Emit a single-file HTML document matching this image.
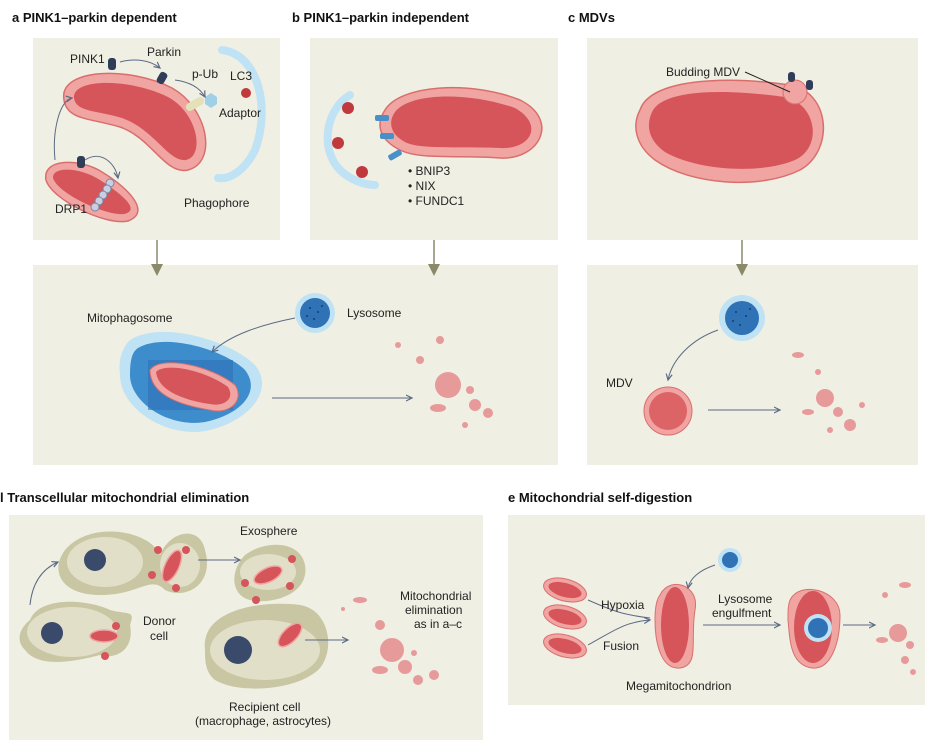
<!DOCTYPE html>
<html><head><meta charset="utf-8"><style>
html,body{margin:0;padding:0;background:#fff;}
svg{display:block;font-family:"Liberation Sans",sans-serif;}
.h{font-weight:bold;font-size:13px;fill:#111;}
.t{font-size:12px;fill:#222;}
</style></head><body>
<svg width="935" height="747" viewBox="0 0 935 747" xmlns="http://www.w3.org/2000/svg">
<defs>
<marker id="ar" markerWidth="8" markerHeight="8" refX="6" refY="4" orient="auto"><path d="M0,1 L6,4 L0,7" fill="none" stroke="#5b6a85" stroke-width="1.2"/></marker>
<marker id="ag" markerWidth="8" markerHeight="8" refX="4" refY="4" orient="auto"><path d="M0,0 L8,4 L0,8z" fill="#8a8a6a"/></marker>
</defs>
<g fill="#f0efe3">
<rect x="33" y="38" width="247" height="202"/>
<rect x="310" y="38" width="248" height="202"/>
<rect x="587" y="38" width="331" height="202"/>
<rect x="33" y="265" width="525" height="200"/>
<rect x="587" y="265" width="331" height="200"/>
<rect x="9" y="515" width="474" height="225"/>
<rect x="508" y="515" width="417" height="190"/>
</g>
<text class="h" x="12" y="22">a  PINK1–parkin dependent</text>
<text class="h" x="292" y="22">b  PINK1–parkin independent</text>
<text class="h" x="568" y="22">c  MDVs</text>
<text class="h" x="0" y="502">l  Transcellular mitochondrial elimination</text>
<text class="h" x="508" y="502">e  Mitochondrial self-digestion</text>
<g stroke="#8a8a6a" stroke-width="1.5">
<line x1="157" y1="240" x2="157" y2="270" marker-end="url(#ag)"/>
<line x1="434" y1="240" x2="434" y2="270" marker-end="url(#ag)"/>
<line x1="742" y1="240" x2="742" y2="270" marker-end="url(#ag)"/>
</g>
<!-- panel a -->
<path d="M64,100 C58,68 130,66 172,88 C208,108 218,162 188,170 C165,175 152,138 120,127 C90,118 67,120 64,100Z" fill="#f0a5a2" stroke="#d96f6d" stroke-width="1.5"/>
<path d="M74,98 C72,78 130,78 168,97 C198,113 205,156 186,160 C168,162 155,130 122,118 C95,110 76,112 74,98Z" fill="#d6555a"/>
<path d="M46,180 C42,158 80,158 102,172 C128,188 152,212 128,221 C106,226 52,200 46,180Z" fill="#f0a5a2" stroke="#d96f6d" stroke-width="1.5"/>
<path d="M53,178 C52,166 80,167 100,180 C120,193 142,210 124,214 C106,216 58,194 53,178Z" fill="#d6555a"/>
<g fill="#c9cfe0" stroke="#7a85a0"><circle cx="110" cy="183" r="4"/><circle cx="107" cy="189" r="4"/><circle cx="103" cy="195" r="4"/><circle cx="99" cy="201" r="4"/><circle cx="95" cy="207" r="4"/></g>
<rect x="108" y="58" width="8" height="12" rx="3" fill="#2f3d58"/>
<rect x="158" y="72" width="8" height="12" rx="3" fill="#2f3d58" transform="rotate(30 162 78)"/>
<rect x="77" y="156" width="8" height="12" rx="3" fill="#2f3d58"/>
<rect x="185" y="100" width="20" height="8" rx="4" fill="#e4e0b8" transform="rotate(-30 195 104)"/>
<path d="M205,97 l6,-4 l6,4 l0,7 l-6,4 l-6,-4z" fill="#9fd0e8"/>
<circle cx="246" cy="93" r="5" fill="#c03a3d"/>
<path d="M222,50 C260,55 270,110 255,150 C245,170 230,180 218,178" fill="none" stroke="#bfe2f4" stroke-width="8" stroke-linecap="round"/>
<path d="M120,62 C135,58 150,60 160,68" fill="none" stroke="#5b6a85" marker-end="url(#ar)"/>
<path d="M175,80 C190,82 200,88 205,97" fill="none" stroke="#5b6a85" marker-end="url(#ar)"/>
<path d="M55,160 C52,130 60,100 72,98" fill="none" stroke="#5b6a85" marker-end="url(#ar)"/>
<path d="M85,160 C100,150 115,162 118,178" fill="none" stroke="#5b6a85" marker-end="url(#ar)"/>
<text class="t" x="70" y="63">PINK1</text>
<text class="t" x="147" y="56">Parkin</text>
<text class="t" x="192" y="78">p-Ub</text>
<text class="t" x="230" y="80">LC3</text>
<text class="t" x="219" y="117">Adaptor</text>
<text class="t" x="184" y="207">Phagophore</text>
<text class="t" x="55" y="213">DRP1</text>
<!-- panel b -->
<path d="M385,110 C400,85 470,80 520,100 C560,120 540,160 500,158 C460,155 420,160 400,150 C380,140 375,125 385,110Z" fill="#f0a5a2" stroke="#d96f6d" stroke-width="1.5"/>
<path d="M395,112 C410,92 470,92 515,108 C545,125 530,150 500,148 C460,146 420,150 405,142 C390,134 388,122 395,112Z" fill="#d6555a"/>
<path d="M350,95 C325,110 320,150 340,170 C350,180 365,185 375,185" fill="none" stroke="#bfe2f4" stroke-width="8" stroke-linecap="round"/>
<g fill="#c03a3d"><circle cx="348" cy="108" r="6"/><circle cx="338" cy="143" r="6"/><circle cx="362" cy="172" r="6"/></g>
<g fill="#4a90c8"><rect x="375" y="115" width="14" height="6" rx="2"/><rect x="380" y="133" width="14" height="6" rx="2"/><rect x="388" y="152" width="14" height="6" rx="2" transform="rotate(-30 395 155)"/></g>
<text class="t" x="408" y="175">• BNIP3</text>
<text class="t" x="408" y="190">• NIX</text>
<text class="t" x="408" y="205">• FUNDC1</text>
<!-- panel c -->
<path d="M640,110 C650,80 720,75 790,85 C830,92 835,150 800,170 C760,190 690,185 655,160 C635,145 632,125 640,110Z" fill="#f0a5a2" stroke="#d96f6d" stroke-width="1.5"/>
<path d="M652,112 C662,90 720,88 785,97 C818,105 822,148 795,160 C760,175 695,170 665,152 C648,140 646,125 652,112Z" fill="#d6555a"/>
<circle cx="795" cy="92" r="12" fill="#f0a5a2" stroke="#d96f6d"/>
<rect x="788" y="72" width="7" height="10" rx="3" fill="#2f3d58"/>
<rect x="806" y="80" width="7" height="10" rx="3" fill="#2f3d58"/>
<text class="t" x="666" y="76">Budding MDV</text>
<line x1="745" y1="72" x2="790" y2="92" stroke="#222"/>
<!-- bottom ab -->
<path d="M130,340 C160,320 230,340 255,365 C275,390 250,420 210,430 C170,440 120,410 120,375 C118,360 122,348 130,340Z" fill="#bfe2f4"/>
<path d="M138,348 C165,332 225,350 245,370 C262,392 240,415 205,422 C168,428 130,402 130,375 C130,360 132,352 138,348Z" fill="#3d8ccc"/>
<rect x="148" y="360" width="85" height="50" fill="#2f72b5" opacity="0.6"/>
<path d="M150,370 C160,355 210,365 235,385 C245,400 230,415 210,410 C180,405 150,395 150,370Z" fill="#f0a5a2" stroke="#d96f6d"/>
<path d="M156,372 C165,362 205,370 228,387 C235,398 225,407 210,404 C182,400 158,390 156,372Z" fill="#d6555a"/>
<circle cx="315" cy="313" r="20" fill="#bfe2f4"/><circle cx="315" cy="313" r="15" fill="#2f72b5"/>
<g fill="#1d3b66"><circle cx="310" cy="308" r="1"/><circle cx="318" cy="312" r="1"/><circle cx="314" cy="319" r="1"/><circle cx="322" cy="306" r="1"/><circle cx="307" cy="316" r="1"/></g>
<text class="t" x="347" y="317">Lysosome</text>
<text class="t" x="87" y="322">Mitophagosome</text>
<path d="M295,318 C260,325 230,335 212,352" fill="none" stroke="#5b6a85" marker-end="url(#ar)"/>
<line x1="272" y1="398" x2="412" y2="398" stroke="#5b6a85" marker-end="url(#ar)"/>
<g fill="#e79a9a"><circle cx="448" cy="385" r="13"/><circle cx="420" cy="360" r="4"/><circle cx="398" cy="345" r="3"/><ellipse cx="438" cy="408" rx="8" ry="4"/><circle cx="470" cy="390" r="4"/><circle cx="488" cy="413" r="5"/><circle cx="465" cy="425" r="3"/><circle cx="440" cy="340" r="4"/><circle cx="475" cy="405" r="6"/></g>
<!-- bottom c -->
<circle cx="742" cy="318" r="23" fill="#bfe2f4"/><circle cx="742" cy="318" r="17" fill="#2f72b5"/>
<g fill="#1d3b66"><circle cx="736" cy="312" r="1"/><circle cx="746" cy="316" r="1"/><circle cx="740" cy="325" r="1"/><circle cx="750" cy="309" r="1"/><circle cx="733" cy="321" r="1"/></g>
<circle cx="668" cy="411" r="24" fill="#f0a5a2" stroke="#d96f6d"/><circle cx="668" cy="411" r="19" fill="#dd6466"/>
<text class="t" x="606" y="387">MDV</text>
<path d="M718,330 C690,340 672,360 668,380" fill="none" stroke="#5b6a85" marker-end="url(#ar)"/>
<line x1="708" y1="410" x2="780" y2="410" stroke="#5b6a85" marker-end="url(#ar)"/>
<g fill="#e79a9a"><circle cx="825" cy="398" r="9"/><circle cx="838" cy="412" r="5"/><ellipse cx="798" cy="355" rx="6" ry="3"/><circle cx="818" cy="372" r="3"/><circle cx="850" cy="425" r="6"/><circle cx="862" cy="405" r="3"/><ellipse cx="808" cy="412" rx="6" ry="3"/><circle cx="830" cy="430" r="3"/></g>
<!-- panel d -->
<g fill="#c9c6a4"><path d="M65,550 C90,520 150,530 160,555 C170,530 200,525 205,550 C215,585 185,600 165,590 C150,575 140,595 100,595 C60,595 50,570 65,550Z"/>
<path d="M30,620 C40,595 90,600 110,610 C130,615 135,610 130,625 C135,650 115,660 100,655 C80,660 40,670 25,650 C15,640 20,628 30,620Z"/>
<path d="M245,555 C265,540 300,540 305,565 C310,595 270,605 250,600 C230,595 230,570 245,555Z"/>
<path d="M205,650 C200,610 260,600 300,605 C330,610 335,650 320,668 C300,690 240,695 215,680 C205,672 205,660 205,650Z"/></g>
<g fill="#e2dfc8"><ellipse cx="105" cy="562" rx="38" ry="25"/><ellipse cx="180" cy="565" rx="20" ry="22"/><ellipse cx="72" cy="632" rx="45" ry="25"/><ellipse cx="268" cy="572" rx="28" ry="18"/><ellipse cx="265" cy="650" rx="55" ry="30"/></g>
<g fill="#3a4a6b"><circle cx="95" cy="560" r="11"/><circle cx="52" cy="633" r="11"/><circle cx="238" cy="650" r="14"/></g>
<g fill="#d6555a" stroke="#f0a5a2" stroke-width="1.5"><ellipse cx="172" cy="566" rx="7" ry="17" transform="rotate(25 172 566)"/><ellipse cx="104" cy="636" rx="14" ry="6"/><ellipse cx="268" cy="575" rx="15" ry="7" transform="rotate(-25 268 575)"/><ellipse cx="290" cy="635" rx="7" ry="15" transform="rotate(45 290 635)"/></g>
<g fill="#d6555a"><circle cx="158" cy="550" r="4"/><circle cx="186" cy="550" r="4"/><circle cx="152" cy="575" r="4"/><circle cx="176" cy="588" r="4"/><circle cx="116" cy="626" r="4"/><circle cx="105" cy="656" r="4"/><circle cx="292" cy="559" r="4"/><circle cx="245" cy="583" r="4"/><circle cx="290" cy="586" r="4"/><circle cx="256" cy="600" r="4"/></g>
<path d="M30,605 C32,585 40,570 58,562" fill="none" stroke="#5b6a85" marker-end="url(#ar)"/>
<line x1="198" y1="560" x2="240" y2="560" stroke="#5b6a85" marker-end="url(#ar)"/>
<line x1="305" y1="640" x2="348" y2="640" stroke="#5b6a85" marker-end="url(#ar)"/>
<text class="t" x="240" y="535">Exosphere</text>
<text class="t" x="143" y="625">Donor</text><text class="t" x="150" y="640">cell</text>
<text class="t" x="400" y="600">Mitochondrial</text><text class="t" x="405" y="614">elimination</text><text class="t" x="414" y="628">as in a–c</text>
<text class="t" x="229" y="711">Recipient cell</text><text class="t" x="195" y="725">(macrophage, astrocytes)</text>
<g fill="#e79a9a"><circle cx="392" cy="650" r="12"/><circle cx="405" cy="667" r="7"/><ellipse cx="380" cy="670" rx="8" ry="4"/><ellipse cx="360" cy="600" rx="7" ry="3"/><circle cx="380" cy="625" r="5"/><circle cx="414" cy="653" r="3"/><circle cx="418" cy="680" r="5"/><circle cx="434" cy="675" r="5"/><circle cx="343" cy="609" r="2"/></g>
<!-- panel e -->
<g fill="#f0a5a2" stroke="#d96f6d"><ellipse cx="565" cy="590" rx="22" ry="11" transform="rotate(15 565 590)"/><ellipse cx="565" cy="617" rx="22" ry="11" transform="rotate(15 565 617)"/><ellipse cx="565" cy="646" rx="22" ry="11" transform="rotate(15 565 646)"/>
<path d="M660,595 C670,575 700,585 695,610 C690,640 700,665 680,668 C660,670 655,640 655,620 C655,610 656,600 660,595Z"/>
<path d="M790,600 C800,580 840,590 840,615 C840,645 830,670 812,668 C790,665 790,640 788,620 C788,610 788,605 790,600Z"/></g>
<g fill="#d6555a"><ellipse cx="565" cy="590" rx="17" ry="7" transform="rotate(15 565 590)"/><ellipse cx="565" cy="617" rx="17" ry="7" transform="rotate(15 565 617)"/><ellipse cx="565" cy="646" rx="17" ry="7" transform="rotate(15 565 646)"/><ellipse cx="675" cy="625" rx="14" ry="38"/><ellipse cx="813" cy="627" rx="19" ry="36"/></g>
<circle cx="818" cy="628" r="14" fill="#bfe2f4"/><circle cx="818" cy="628" r="10" fill="#2f72b5"/>
<circle cx="730" cy="560" r="12" fill="#bfe2f4"/><circle cx="730" cy="560" r="8" fill="#2f72b5"/>
<path d="M588,600 C615,612 625,615 650,618" fill="none" stroke="#5b6a85"/>
<path d="M588,645 C615,630 625,622 650,620" fill="none" stroke="#5b6a85" marker-end="url(#ar)"/>
<path d="M715,565 C700,570 690,578 688,588" fill="none" stroke="#5b6a85" marker-end="url(#ar)"/>
<line x1="703" y1="625" x2="780" y2="625" stroke="#5b6a85" marker-end="url(#ar)"/>
<line x1="843" y1="625" x2="875" y2="625" stroke="#5b6a85" marker-end="url(#ar)"/>
<text class="t" x="601" y="609">Hypoxia</text>
<text class="t" x="603" y="650">Fusion</text>
<text class="t" x="718" y="603">Lysosome</text><text class="t" x="712" y="617">engulfment</text>
<text class="t" x="626" y="690">Megamitochondrion</text>
<g fill="#e79a9a"><circle cx="898" cy="633" r="9"/><circle cx="910" cy="645" r="4"/><ellipse cx="905" cy="585" rx="6" ry="3"/><circle cx="885" cy="595" r="3"/><ellipse cx="882" cy="640" rx="6" ry="3"/><circle cx="905" cy="660" r="4"/><circle cx="913" cy="672" r="3"/></g>
</svg>
</body></html>
